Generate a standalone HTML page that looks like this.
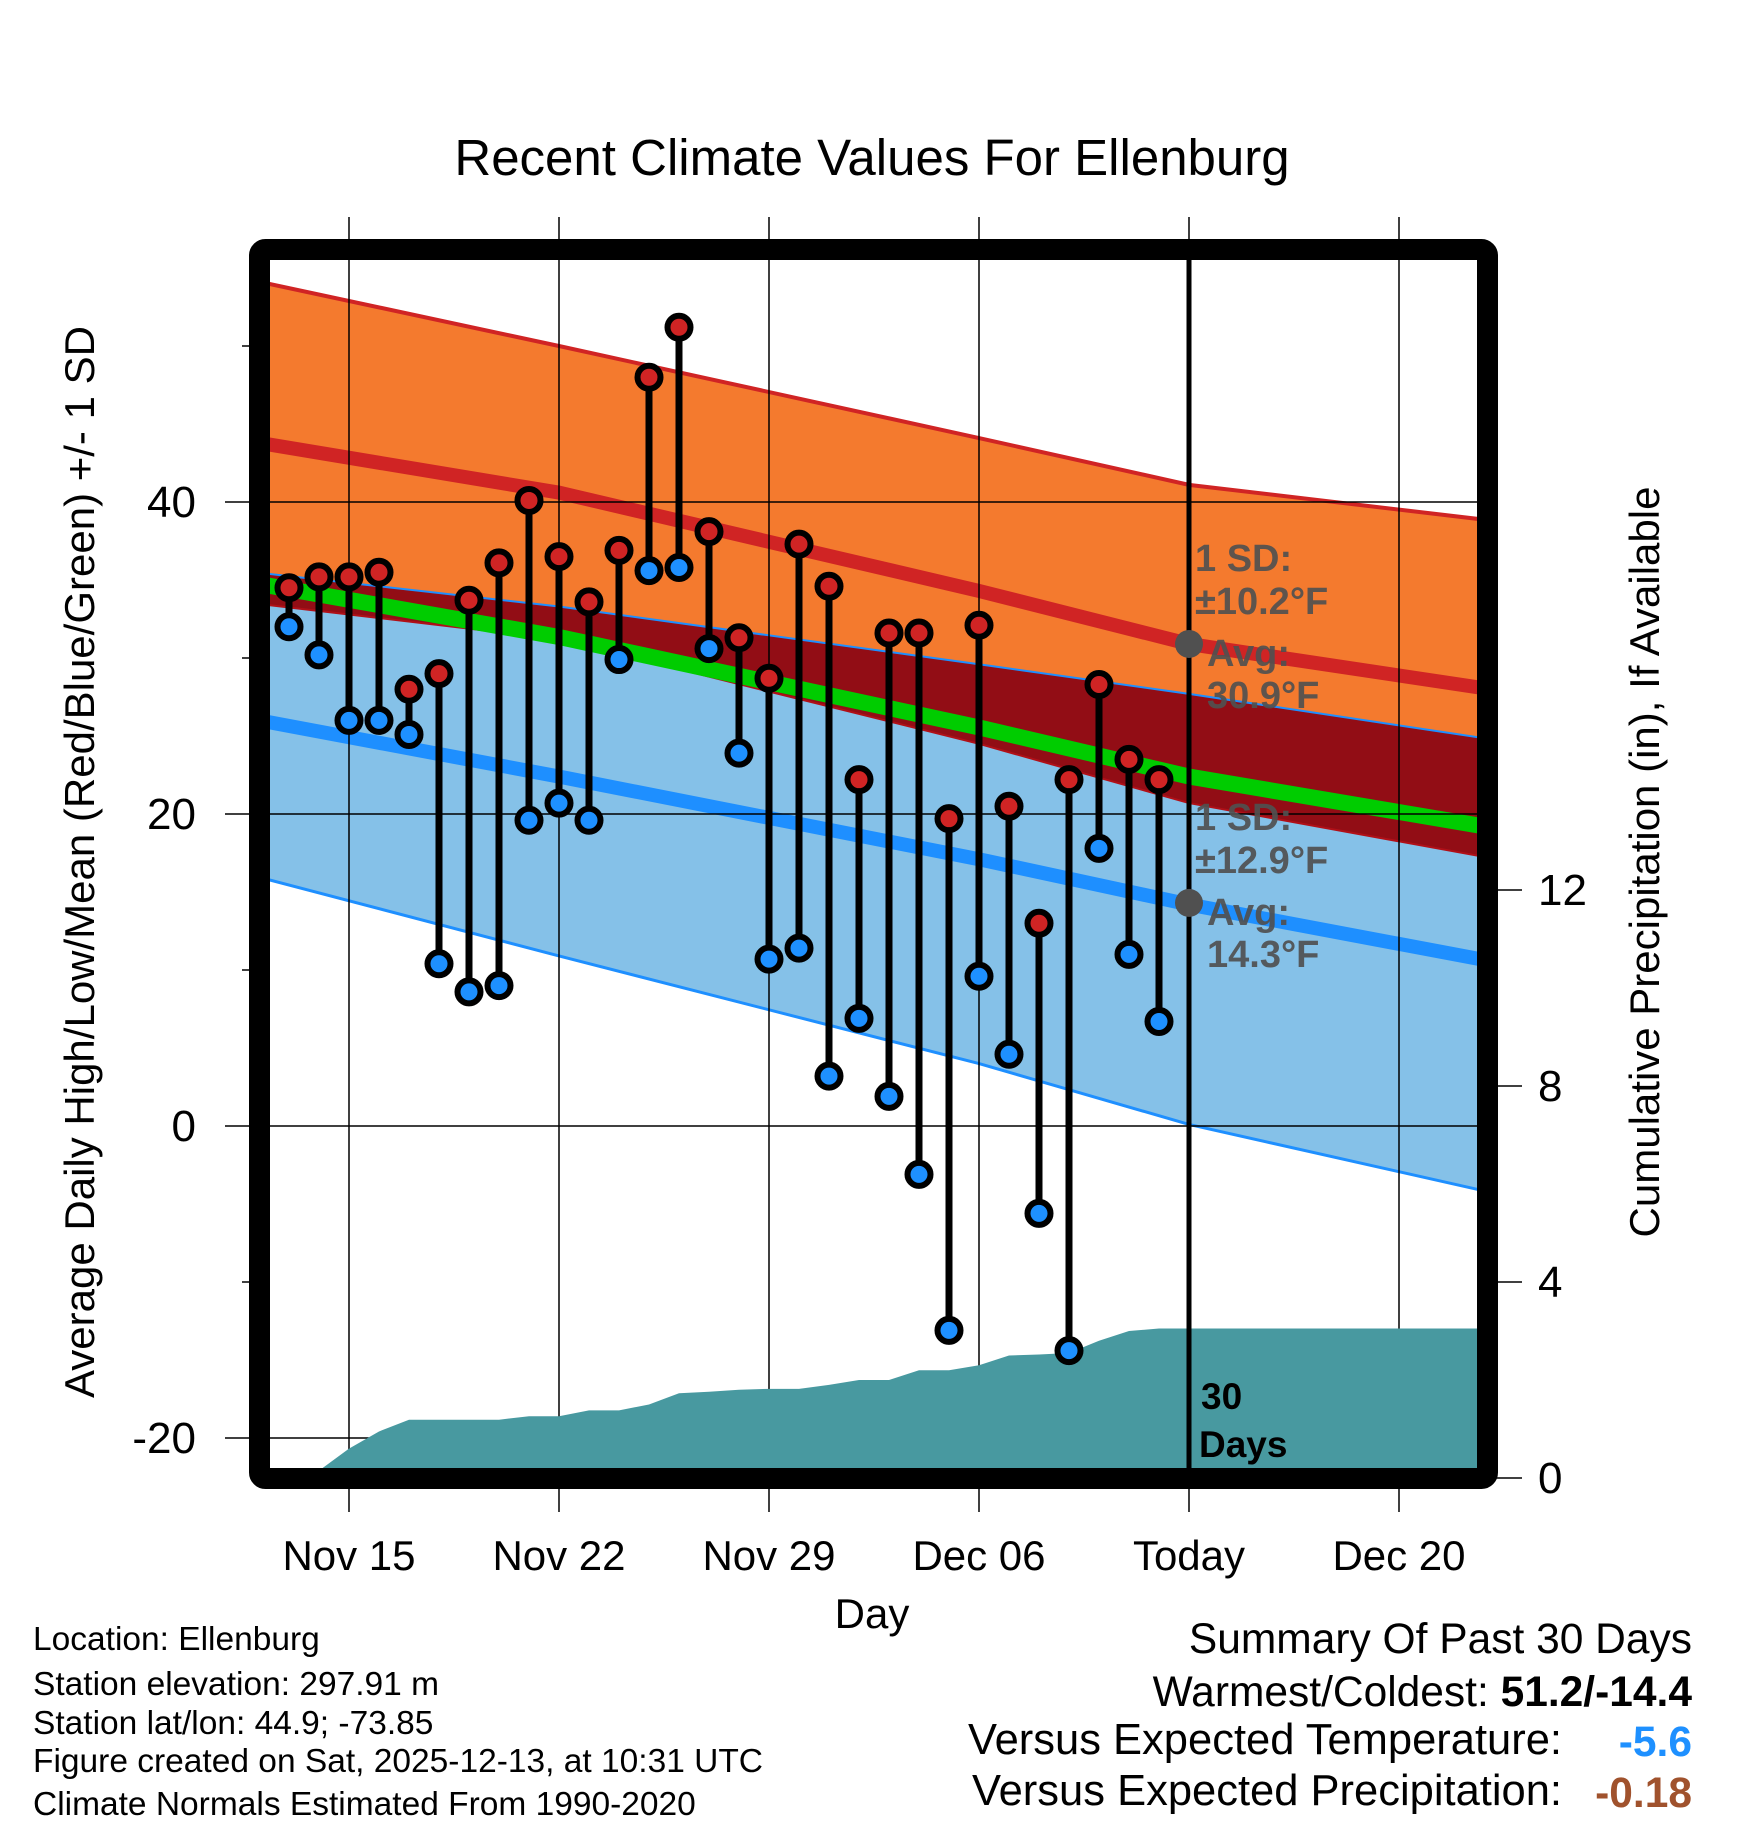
<!DOCTYPE html>
<html><head><meta charset="utf-8"><style>
body{margin:0;background:#fff;}
svg{display:block;font-family:"Liberation Sans",sans-serif;}
</style></head><body>
<svg id="chart" width="1748" height="1828" viewBox="0 0 1748 1828" xmlns="http://www.w3.org/2000/svg">
<defs><clipPath id="plotclip"><rect x="270" y="260" width="1208" height="1208"/></clipPath></defs>
<text x="872" y="175" font-size="51" text-anchor="middle">Recent Climate Values For Ellenburg</text>
<g id="bands" clip-path="url(#plotclip)"></g>
<g id="grid"></g>
<g id="precip" clip-path="url(#plotclip)"></g>
<g id="marks"></g>
<g id="annot"></g>
<rect x="259.5" y="249.5" width="1228" height="1229" rx="6" fill="none" stroke="#000" stroke-width="21"/>
<g id="axes"></g>
<text transform="translate(94,862) rotate(-90)" font-size="42" text-anchor="middle">Average Daily High/Low/Mean (Red/Blue/Green) +/- 1 SD</text>
<text transform="translate(1659,862) rotate(-90)" font-size="42" text-anchor="middle">Cumulative Precipitation (in), If Available</text>
<text x="872" y="1628" font-size="42" text-anchor="middle">Day</text>
<g font-size="33.5">
<text x="33" y="1650">Location: Ellenburg</text>
<text x="33" y="1695">Station elevation: 297.91 m</text>
<text x="33" y="1734">Station lat/lon: 44.9; -73.85</text>
<text x="33" y="1772">Figure created on Sat, 2025-12-13, at 10:31 UTC</text>
<text x="33" y="1815">Climate Normals Estimated From 1990-2020</text>
</g>
<g font-size="42.5">
<text x="1692" y="1653" text-anchor="end">Summary Of Past 30 Days</text>
<text x="1692" y="1706" text-anchor="end">Warmest/Coldest: <tspan font-weight="bold">51.2/-14.4</tspan></text>
<text x="1562" y="1754" text-anchor="end" font-size="43.5">Versus Expected Temperature:</text>
<text x="1692" y="1756" text-anchor="end" font-weight="bold" fill="#1e90ff">-5.6</text>
<text x="1562" y="1805" text-anchor="end" font-size="43.5">Versus Expected Precipitation:</text>
<text x="1692" y="1807" text-anchor="end" font-weight="bold" fill="#a0522d">-0.18</text>
</g>
</svg>
<script>
// ---- data ----
const highs = [34.5,35.2,35.2,35.5,28.0,29.0,33.7,36.1,40.1,36.5,33.6,36.9,48.0,51.2,38.1,31.3,28.7,37.3,34.6,22.2,31.6,31.6,19.7,32.1,20.5,13.0,22.2,28.3,23.5,22.2];
const lows = [32.0,30.2,26.0,26.0,25.1,10.4,8.6,9.0,19.6,20.7,19.6,29.9,35.6,35.8,30.6,23.9,10.7,11.4,3.2,6.9,1.9,-3.1,-13.1,9.6,4.6,-5.6,-14.4,17.8,11.0,6.7];
const precipCum = [0,0.15,0.6,0.95,1.19,1.19,1.19,1.19,1.26,1.26,1.38,1.38,1.5,1.73,1.76,1.8,1.82,1.82,1.9,2.0,2.0,2.2,2.2,2.3,2.5,2.52,2.55,2.8,3.0,3.05];
const normDays = [-0.7,9,23,30,39.7];
const highMean = [43.7,40.6,34.3,30.9,28.1];
const highSD = [10.3,9.4,9.8,10.2,10.8];
const lowMean = [25.6,22.1,16.8,13.9,10.4];
const lowSD = [9.8,11.2,12.8,13.8,14.5];
const xTickDays = [2,9,16,23,30,37];
const xTickLabels = ["Nov 15","Nov 22","Nov 29","Dec 06","Today","Dec 20"];
const yTicks = [40,20,0,-20];
const yMinor = [50,30,10,-10];
const y2Ticks = [0,4,8,12];
const todayDay = 30;
const todayHighAvg = 30.9, todayHighSD = 10.2, todayLowAvg = 14.3, todayLowSD = 12.9;

// ---- scales ----
const X = d => 289 + 30*d;
const Y = v => 1126 - 15.6*v;
const Y2 = p => 1478 - 49*p;
const NS = "http://www.w3.org/2000/svg";
function mk(tag, parent, attrs){const e=document.createElementNS(NS,tag);for(const k in attrs)e.setAttribute(k,attrs[k]);parent.appendChild(e);return e;}
const pts = f => normDays.map((d,i)=>X(d)+","+Y(f(i))).join(" ");
const rpts = f => normDays.slice().reverse().map((d,j)=>{const i=normDays.length-1-j;return X(d)+","+Y(f(i));}).join(" ");

const bands = document.getElementById('bands');
const hiUp=i=>highMean[i]+highSD[i], hiLo=i=>highMean[i]-highSD[i];
const loUp=i=>lowMean[i]+lowSD[i], loLo=i=>lowMean[i]-lowSD[i];
let e;
e=mk('polygon',bands,{points:pts(hiUp)+" "+rpts(hiLo),fill:"#f47a2e"});


e=mk('polygon',bands,{points:pts(loUp)+" "+rpts(loLo),fill:"#85c1e8"});


e=mk('polygon',bands,{points:pts(loUp)+" "+rpts(hiLo),fill:"#920d15"});


e=mk('polyline',bands,{points:pts(loUp),fill:"none",stroke:"#1e8fff","stroke-width":2});


e=mk('polyline',bands,{points:pts(loLo),fill:"none",stroke:"#1e8fff","stroke-width":3});


e=mk('polyline',bands,{points:pts(hiUp),fill:"none",stroke:"#d02424","stroke-width":4});


e=mk('polyline',bands,{points:pts(hiLo),fill:"none",stroke:"#b01018","stroke-width":2});


e=mk('polyline',bands,{points:pts(i=>(highMean[i]+lowMean[i])/2),fill:"none",stroke:"#00cc00","stroke-width":16});


e=mk('polyline',bands,{points:pts(i=>highMean[i]),fill:"none",stroke:"#d02424","stroke-width":14});


e=mk('polyline',bands,{points:pts(i=>lowMean[i]+0.3),fill:"none",stroke:"#1e8fff","stroke-width":14});



// grid
const grid=document.getElementById('grid');
xTickDays.forEach(d=>{
  e=mk('line',grid,{x1:X(d),x2:X(d),y1:217,y2:1512,stroke:"#000","stroke-width":1.5});
  
  
});
yTicks.forEach(v=>{
  e=mk('line',grid,{x1:225,x2:1478,y1:Y(v),y2:Y(v),stroke:"#000","stroke-width":1.5});
  
  
});

// precip
const pr=document.getElementById('precip');
let pp=X(-1)+","+Y2(0)+" ";
precipCum.forEach((p,i)=>{pp+=X(i)+","+Y2(p)+" ";});
const lastP=precipCum[precipCum.length-1];
pp+=X(40)+","+Y2(lastP)+" "+X(40)+","+Y2(0);
e=mk('polygon',pr,{points:pp,fill:"#4899a0"});



// marks
const marks=document.getElementById('marks');
highs.forEach((h,i)=>{
  const l=lows[i];
  e=mk('line',marks,{x1:X(i),x2:X(i),y1:Y(h),y2:Y(l),stroke:"#000","stroke-width":7});
  
  
  e=mk('circle',marks,{cx:X(i),cy:Y(h),r:11.5,fill:"#d02424",stroke:"#000","stroke-width":6});
  
  
  e=mk('circle',marks,{cx:X(i),cy:Y(l),r:11.5,fill:"#1e90ff",stroke:"#000","stroke-width":6});
  
  
});

// today annotations
const an=document.getElementById('annot');
const tx=X(todayDay);
e=mk('line',an,{x1:tx,x2:tx,y1:260,y2:1468,stroke:"#000","stroke-width":5});


[[todayHighAvg,todayHighSD],[todayLowAvg,todayLowSD]].forEach(([m,s],k)=>{
  e=mk('circle',an,{cx:tx,cy:Y(m),r:14,fill:"#505050"});
  
  
  const g=mk('text',an,{x:tx+6,"font-size":38,"font-weight":"bold",fill:"#505050","fill-opacity":"0.92"});
  
  
  const base=Y(m);
  const lines=[["1 SD:",base-73,0],["\u00b1"+s.toFixed(1)+"\u00b0F",base-30,0],["Avg:",base+22,12],[m.toFixed(1)+"\u00b0F",base+64,12]];
  lines.forEach(([t,y,dx])=>{const ts=mk('tspan',g,{x:tx+6+dx,y:y});ts.textContent=t;});
});
e=mk('text',an,{x:tx+12,y:1409,"font-size":37,"font-weight":"bold"});
e.textContent="30";


e=mk('text',an,{x:tx+10,y:1457,"font-size":37,"font-weight":"bold"});
e.textContent="Days";



// axes labels
const ax=document.getElementById('axes');
yTicks.forEach(v=>{
  e=mk('text',ax,{x:196,y:Y(v)+15,"font-size":44,"text-anchor":"end"});
  e.textContent=String(v);
  
  
});
yMinor.forEach(v=>{
  e=mk('line',ax,{x1:242,x2:260,y1:Y(v),y2:Y(v),stroke:"#000","stroke-width":1.5});
  
  
});
y2Ticks.forEach(p=>{
  e=mk('line',ax,{x1:1487,x2:1522,y1:Y2(p),y2:Y2(p),stroke:"#000","stroke-width":1.5});
  
  
  e=mk('text',ax,{x:1538,y:Y2(p)+15,"font-size":44});
  e.textContent=String(p);
  
  
});
xTickDays.forEach((d,i)=>{
  e=mk('text',ax,{x:X(d),y:1570,"font-size":42,"text-anchor":"middle"});
  e.textContent=xTickLabels[i];
  
  
});
</script>
</body></html>
